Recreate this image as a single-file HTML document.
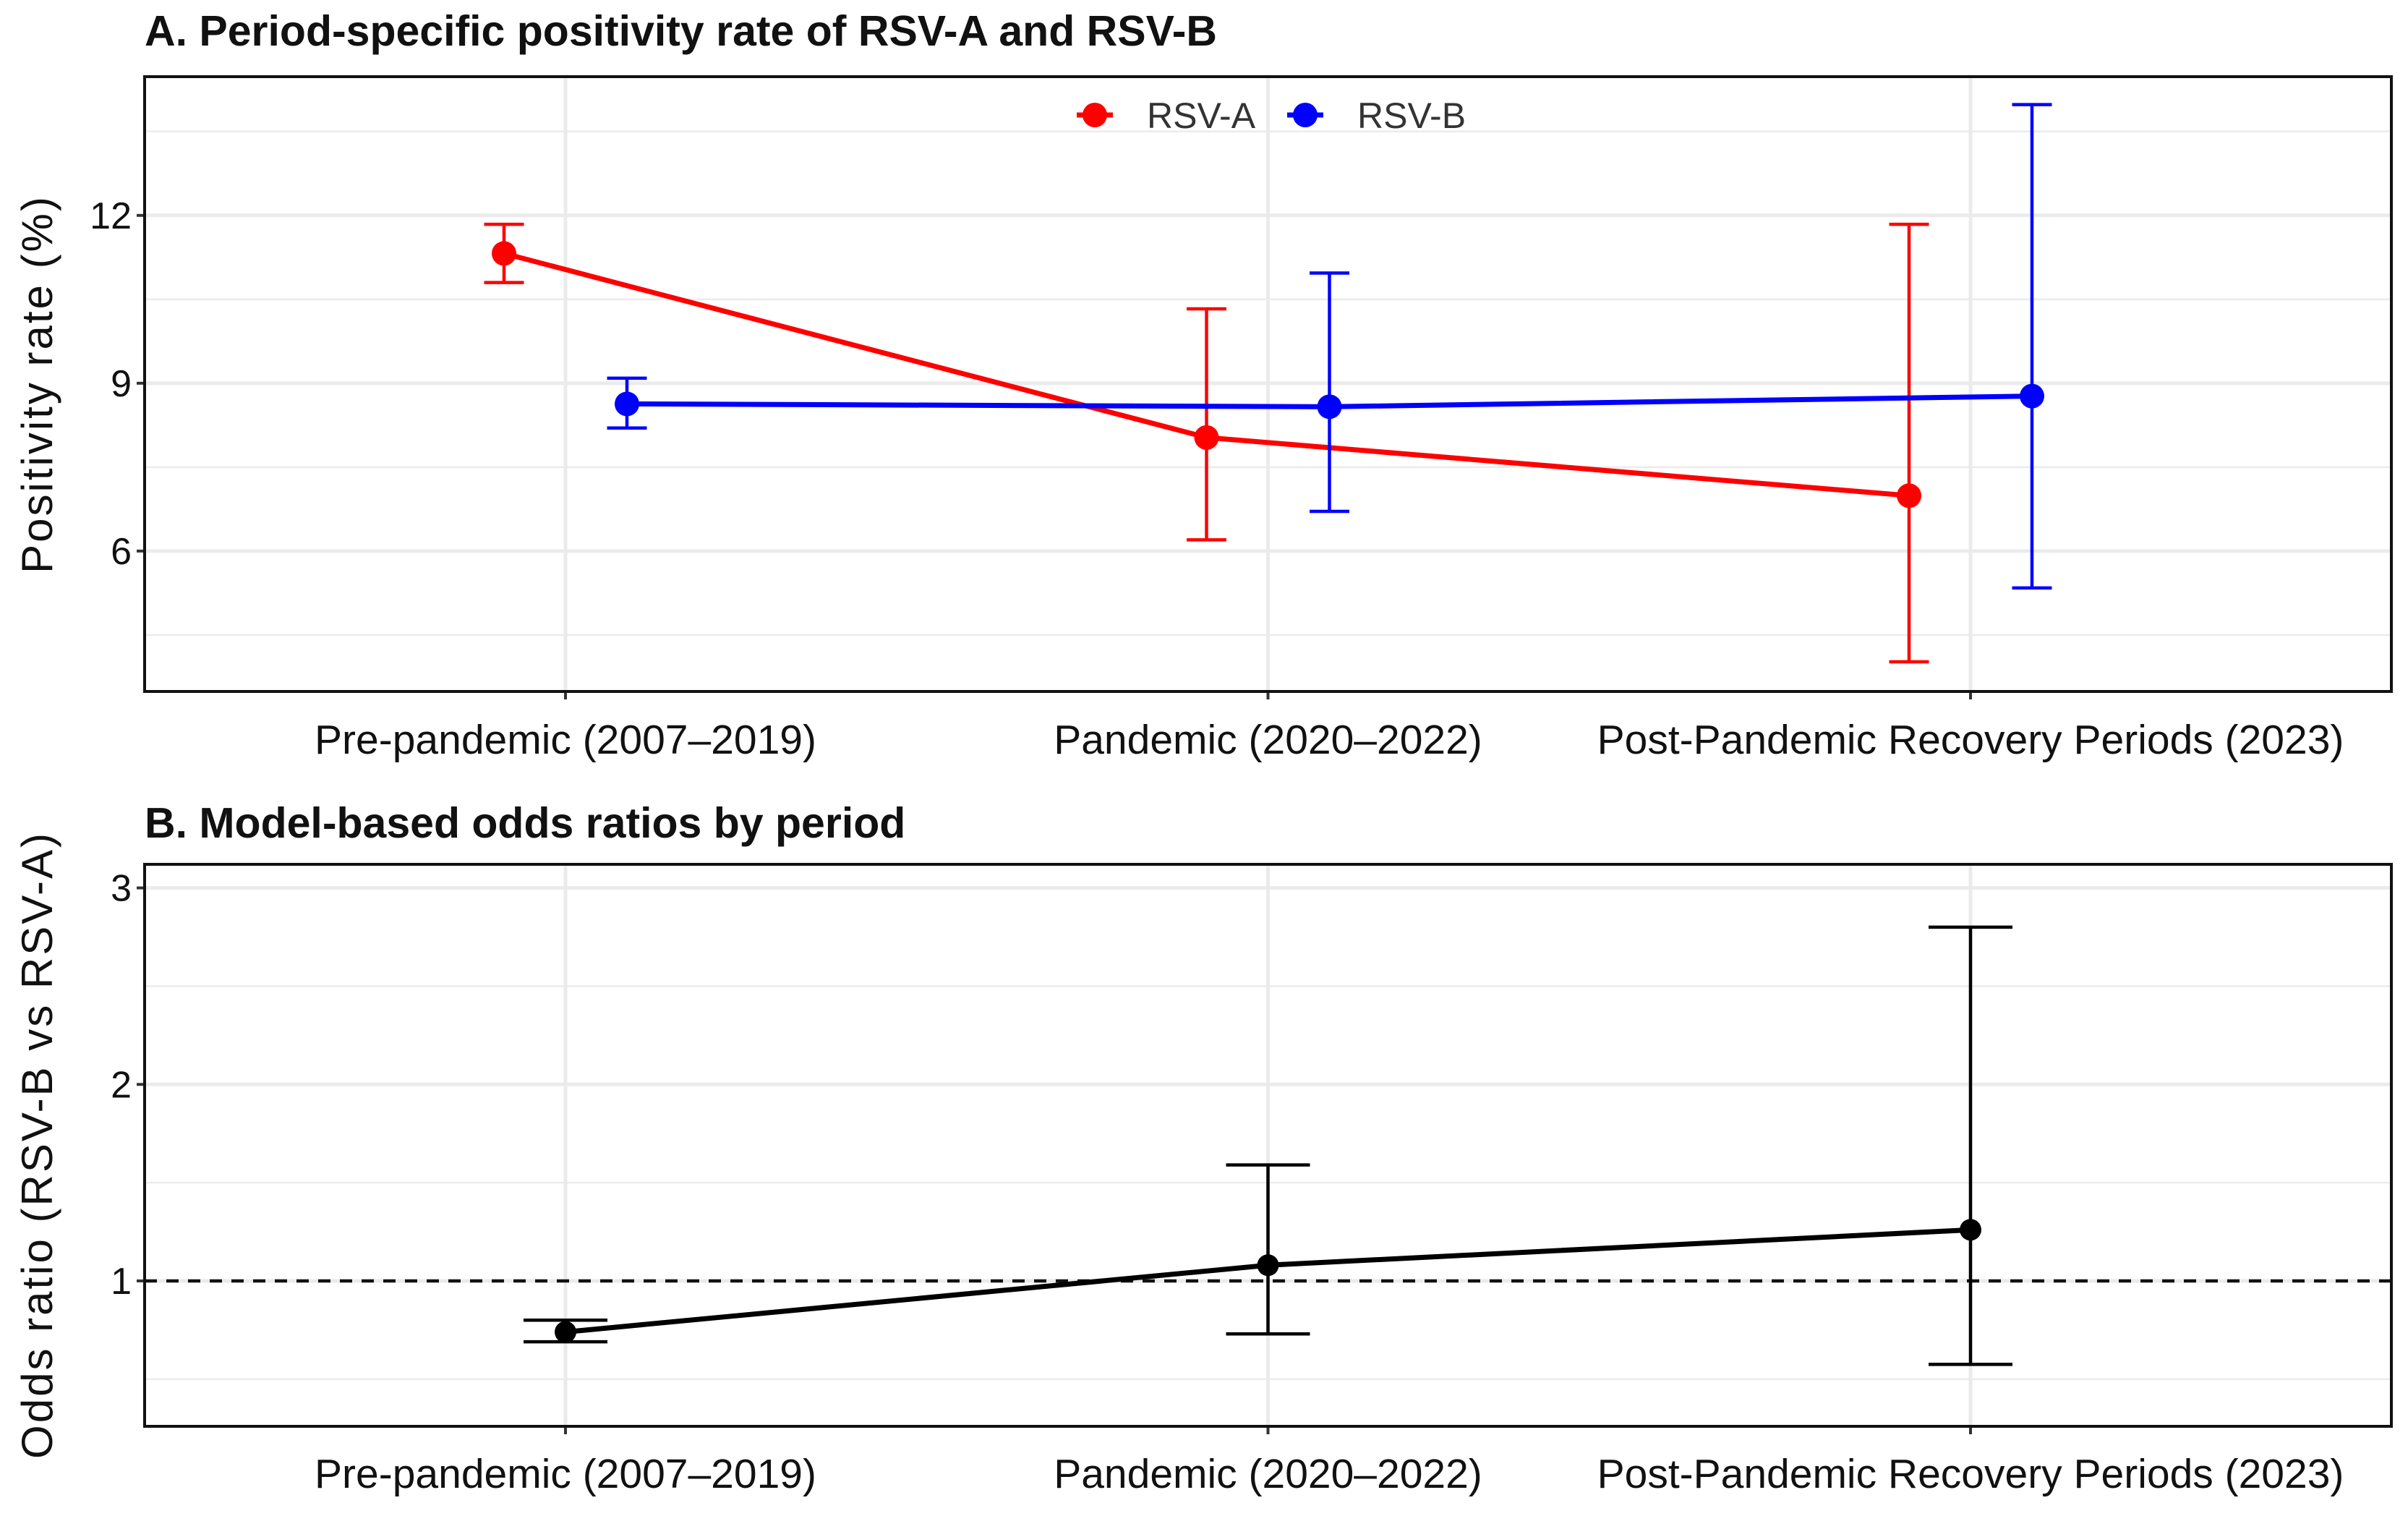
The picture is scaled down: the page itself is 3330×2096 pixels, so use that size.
<!DOCTYPE html>
<html><head><meta charset="utf-8"><style>
html,body{margin:0;padding:0;background:#fff}
svg{display:block;font-family:"Liberation Sans",Arial,sans-serif}
</style></head><body>
<svg id="chart" width="3330" height="2096" viewBox="0 0 3330 2096" xmlns="http://www.w3.org/2000/svg">
<g id="pa"></g>
<g id="pb"></g>
</svg>
<script>
const categories = ["Pre-pandemic (2007\u20132019)", "Pandemic (2020\u20132022)", "Post-Pandemic Recovery Periods (2023)"];
const rsvA = [11.32, 8.03, 6.99];
const rsvALo = [10.8, 6.2, 4.02];
const rsvAHi = [11.84, 10.33, 11.84];
const rsvB = [8.63, 8.58, 8.77];
const rsvBLo = [8.2, 6.71, 5.34];
const rsvBHi = [9.09, 10.97, 13.98];
const ticksA = [6, 9, 12];
const minorA = [4.5, 7.5, 10.5, 13.5];
const orVals = [0.74, 1.08, 1.26];
const orLo = [0.69, 0.73, 0.575];
const orHi = [0.80, 1.59, 2.80];
const ticksB = [1, 2, 3];
const minorB = [0.5, 1.5, 2.5];
const refLine = [1];

const NS = "http://www.w3.org/2000/svg";
function mk(parent, tag, attrs, text) {
  const e = document.createElementNS(NS, tag);
  for (const k in attrs) e.setAttribute(k, attrs[k]);
  if (text !== undefined) e.textContent = text;
  parent.appendChild(e);
  return e;
}
const L = 200, R = 3307;
const xCat = i => 782 + i * 971.5;
function yA(v) { return 956 - (v - 3.49) / (14.48 - 3.49) * (956 - 106); }
function yB(v) { return 1972 - (v - 0.26) / (3.12 - 0.26) * (1972 - 1195); }

function frame(g, top, bot, yf, ticks, minor, xLabelY) {
  minor.forEach(v => {
    const l = mk(g, "line", {x1: L, x2: R, y1: yf(v), y2: yf(v), stroke: "#ebebeb", "stroke-width": 2.5});
    
    
  });
  ticks.forEach(v => {
    const l = mk(g, "line", {x1: L, x2: R, y1: yf(v), y2: yf(v), stroke: "#ebebeb", "stroke-width": 5});
    
    
    const t = mk(g, "line", {x1: L - 11, x2: L, y1: yf(v), y2: yf(v), stroke: "#333", "stroke-width": 4});
    
    
    const tx = mk(g, "text", {x: L - 18, y: yf(v) + 18, "text-anchor": "end", "font-size": 52, fill: "#111"}, String(v));
    
    
  });
  categories.forEach((c, i) => {
    const l = mk(g, "line", {x1: xCat(i), x2: xCat(i), y1: top, y2: bot, stroke: "#ebebeb", "stroke-width": 5});
    
    
    const t = mk(g, "line", {x1: xCat(i), x2: xCat(i), y1: bot, y2: bot + 11, stroke: "#333", "stroke-width": 4});
    
    
    const tx = mk(g, "text", {x: xCat(i), y: xLabelY, "text-anchor": "middle", "font-size": 57, fill: "#111"}, c);
    
    
  });
  const b = mk(g, "rect", {x: L, y: top, width: R - L, height: bot - top, fill: "none", stroke: "#111", "stroke-width": 4});
  
  
}

function errBar(g, x, lo, hi, color, capW, sw, name) {
  const grp = mk(g, "g", {});
  
  
  mk(grp, "line", {x1: x, x2: x, y1: lo, y2: hi, stroke: color, "stroke-width": sw});
  mk(grp, "line", {x1: x - capW / 2, x2: x + capW / 2, y1: lo, y2: lo, stroke: color, "stroke-width": sw});
  mk(grp, "line", {x1: x - capW / 2, x2: x + capW / 2, y1: hi, y2: hi, stroke: color, "stroke-width": sw});
}

// Panel A
const pa = document.getElementById("pa");
const ta = mk(pa, "text", {x: 200, y: 63, "font-size": 59, "font-weight": "bold", fill: "#111"}, "A. Period-specific positivity rate of RSV-A and RSV-B");


frame(pa, 106, 956, yA, ticksA, minorA, 1042);
const yta = mk(pa, "text", {x: 0, y: 0, "text-anchor": "middle", "font-size": 60, "letter-spacing": 3, fill: "#111", transform: "translate(72,531) rotate(-90)"}, "Positivity rate (%)");



const dodge = 85;
[[rsvA, rsvALo, rsvAHi, "#ff0000", -dodge, "rsv-a"], [rsvB, rsvBLo, rsvBHi, "#0000ff", dodge, "rsv-b"]].forEach(([v, lo, hi, col, dx, nm]) => {
  v.forEach((d, i) => errBar(pa, xCat(i) + dx, yA(lo[i]), yA(hi[i]), col, 55, 4.5, nm + "-errorbar"));
  const pts = v.map((d, i) => (xCat(i) + dx) + "," + yA(d)).join(" ");
  const pl = mk(pa, "polyline", {points: pts, fill: "none", stroke: col, "stroke-width": 7});
  
  
  v.forEach((d, i) => {
    const c = mk(pa, "circle", {cx: xCat(i) + dx, cy: yA(d), r: 17, fill: col});
    
    
  });
});
// legend
const lg = mk(pa, "g", {});


[["#ff0000", "RSV-A", 1514], ["#0000ff", "RSV-B", 1805]].forEach(([col, lab, x]) => {
  const e = mk(lg, "g", {});
  
  
  mk(e, "line", {x1: x - 25, x2: x + 25, y1: 159, y2: 159, stroke: col, "stroke-width": 7});
  mk(e, "circle", {cx: x, cy: 159, r: 17, fill: col});
  mk(e, "text", {x: x + 72, y: 177, "font-size": 50, fill: "#333"}, lab);
});

// Panel B
const pb = document.getElementById("pb");
const tb = mk(pb, "text", {x: 200, y: 1158, "font-size": 59, "font-weight": "bold", fill: "#111"}, "B. Model-based odds ratios by period");


frame(pb, 1195, 1972, yB, ticksB, minorB, 2057);
const ytb = mk(pb, "text", {x: 0, y: 0, "text-anchor": "middle", "font-size": 60, "letter-spacing": 3, fill: "#111", transform: "translate(72,1583) rotate(-90)"}, "Odds ratio (RSV-B vs RSV-A)");


refLine.forEach(v => {
  const d = mk(pb, "line", {x1: L, x2: R, y1: yB(v), y2: yB(v), stroke: "#111", "stroke-width": 4.5, "stroke-dasharray": "17,13"});
  
  
});
orVals.forEach((d, i) => errBar(pb, xCat(i), yB(orLo[i]), yB(orHi[i]), "#000", 116, 4.5, "or-errorbar"));
const plB = mk(pb, "polyline", {points: orVals.map((d, i) => xCat(i) + "," + yB(d)).join(" "), fill: "none", stroke: "#000", "stroke-width": 7});


orVals.forEach((d, i) => {
  const c = mk(pb, "circle", {cx: xCat(i), cy: yB(d), r: 15, fill: "#000"});
  
  
});
</script>
</body></html>
